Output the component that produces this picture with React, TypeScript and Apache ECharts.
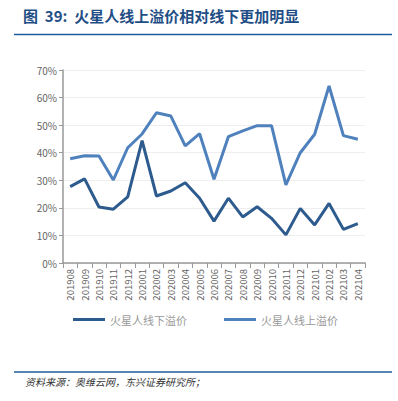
import React, { useEffect, useRef } from "react";
import * as echarts from "echarts";

const categories = ["201908","201909","201910","201911","201912","202001","202002","202003","202004","202005","202006","202007","202008","202009","202010","202011","202012","202101","202102","202103","202104"];
const offlinePremium = [27.7,30.5,20.3,19.5,24.0,44.4,24.3,26.1,29.1,23.5,15.2,23.5,16.7,20.4,16.2,10.2,19.8,13.8,21.6,12.2,14.3];
const onlinePremium = [37.8,38.9,38.8,30.1,41.8,46.8,54.5,53.3,42.5,46.9,30.4,45.8,47.9,49.8,49.8,28.3,40.0,46.7,64.2,46.2,44.9];
const seriesNames = ["火星人线下溢价", "火星人线上溢价"];
const titleText = "图  39:  火星人线上溢价相对线下更加明显";
const sourceText = "资料来源：奥维云网，东兴证券研究所；";

export default function App() {
  const ref = useRef<HTMLDivElement>(null);
  useEffect(() => {
    const chart = echarts.init(ref.current!, null, { renderer: "svg" });
    chart.setOption({
      animation: false,
      backgroundColor: "#fff",
      textStyle: { fontFamily: "'Noto Sans CJK SC', 'Noto Sans', sans-serif" },
      graphic: [
        { type: "text", left: 23, top: 8, style: { text: titleText, fontSize: 15, fontWeight: "bold", fill: "#1F4E86", fontFamily: "'Noto Sans CJK SC', sans-serif" } },
        { type: "line", shape: { x1: 14, y1: 34.5, x2: 392, y2: 34.5 }, style: { stroke: "#1F5E9E", lineWidth: 1.5 } },
        { type: "line", shape: { x1: 14, y1: 372, x2: 392, y2: 372 }, style: { stroke: "#1F5E9E", lineWidth: 1.5 } },
        { type: "text", left: 25, top: 376, style: { text: sourceText, fontSize: 10, fontStyle: "italic", fill: "#333", fontFamily: "'Noto Sans CJK SC', serif" } },
      ],
      legend: {
        top: 309,
        left: 68,
        itemGap: 37,
        itemWidth: 32,
        itemHeight: 3,
        icon: "rect",
        textStyle: { color: "#999", fontSize: 11 },
        data: seriesNames,
      },
      grid: { left: 63, right: 33, top: 70, bottom: 138 },
      xAxis: {
        type: "category",
        data: categories,
        boundaryGap: true,
        axisLine: { lineStyle: { color: "#999", width: 1.5 } },
        axisTick: { show: true, alignWithLabel: false, length: 5, lineStyle: { color: "#999" } },
        axisLabel: { rotate: 90, color: "#666", fontSize: 9.5, interval: 0, margin: 6 },
      },
      yAxis: {
        type: "value",
        min: 0,
        max: 70,
        interval: 10,
        axisLine: { show: true, lineStyle: { color: "#999", width: 1.5 } },
        axisTick: { show: true, length: 4, lineStyle: { color: "#999" } },
        axisLabel: { formatter: "{value}%", color: "#666", fontSize: 10, margin: 6 },
        splitLine: { lineStyle: { color: "#eee" } },
      },
      series: [
        { name: seriesNames[0], type: "line", data: offlinePremium, symbol: "none", lineStyle: { width: 3, color: "#2E5B8E" }, itemStyle: { color: "#2E5B8E" } },
        { name: seriesNames[1], type: "line", data: onlinePremium, symbol: "none", lineStyle: { width: 3, color: "#4F81BD" }, itemStyle: { color: "#4F81BD" } },
      ],
    });
    return () => chart.dispose();
  }, []);
  return <div ref={ref} style={{ width: 398, height: 401, position: "absolute", left: 0, top: 0 }} />;
}
